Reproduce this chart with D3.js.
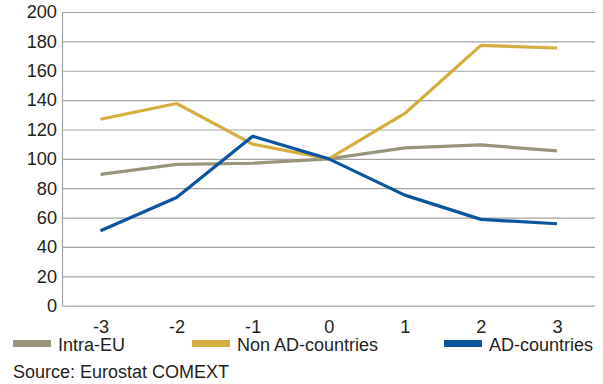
<!DOCTYPE html>
<html>
<head>
<meta charset="utf-8">
<script src="https://cdn.jsdelivr.net/npm/d3@7"></script>
<style>
  html, body { margin: 0; padding: 0; background: #fff; }
  svg { display: block; }
  text { font-family: "Liberation Sans", Arial, Helvetica, sans-serif; fill: #231f20; }
</style>
</head>
<body>
<svg id="chart" width="603" height="384"></svg>
<script>
// Years relative to the start of anti-dumping measures
const years = [-3, -2, -1, 0, 1, 2, 3];
// Import indices (year 0 = 100)
const intraEU = [89.4, 96.2, 97, 100, 107.5, 109.5, 105.4];
const nonAD = [127, 137.7, 110, 100, 130.9, 177.3, 175.5];
const adCountries = [51, 73.7, 115.4, 100, 75.3, 58.8, 55.8];
const seriesNames = ["Intra-EU", "Non AD-countries", "AD-countries"];
const seriesColors = ["#99957a", "#d5ae40", "#0b559f"];
const yTicks = [0, 20, 40, 60, 80, 100, 120, 140, 160, 180, 200];
const sourceText = "Source: Eurostat COMEXT";

const series = [intraEU, nonAD, adCountries];

const svg = d3.select("#chart");
const plotLeft = 62.5, plotRight = 595, plotTop = 12, plotBottom = 305.7;

const x = d3.scalePoint().domain(years).range([plotLeft, plotRight]).padding(0.5);
const y = d3.scaleLinear().domain([0, 200]).range([plotBottom, plotTop]);

// Horizontal gridlines with value labels
const yAxis = d3.axisLeft(y).tickValues(yTicks).tickSize(-(plotRight - plotLeft)).tickPadding(6);
const gy = svg.append("g").attr("transform", `translate(${plotLeft},0)`).call(yAxis);
gy.select(".domain").remove();
gy.selectAll(".tick line").attr("stroke", "#a3a3a3").attr("stroke-width", 1.2);
gy.selectAll(".tick text").attr("font-size", 18.2).attr("fill", "#231f20").attr("x", -5.5)
  .style("font-family", "Liberation Sans, Arial, sans-serif");

// Vertical axis line
svg.append("line").attr("x1", plotLeft).attr("x2", plotLeft).attr("y1", plotTop).attr("y2", plotBottom)
  .attr("stroke", "#a3a3a3").attr("stroke-width", 1.2);

// Year labels
const xAxis = d3.axisBottom(x).tickSize(0).tickPadding(14).tickFormat(d => d < 0 ? "-" + Math.abs(d) : d);
const gx = svg.append("g").attr("transform", `translate(0,${plotBottom})`).call(xAxis);
gx.select(".domain").remove();
gx.selectAll(".tick text").attr("font-size", 18.2).attr("fill", "#231f20")
  .style("font-family", "Liberation Sans, Arial, sans-serif");

// Lines
const line = d3.line().x((d, i) => x(years[i])).y(d => y(d));
series.forEach((vals, k) => {
  svg.append("path").datum(vals)
    .attr("d", line)
    .attr("fill", "none")
    .attr("stroke", seriesColors[k])
    .attr("stroke-width", 3.2)
    .attr("stroke-linejoin", "round");
});

// Legend
const legendX = [13, 192, 444];
seriesNames.forEach((name, k) => {
  const g = svg.append("g").attr("transform", `translate(${legendX[k]},340)`);
  g.append("rect").attr("width", 38).attr("height", 7).attr("fill", seriesColors[k]);
  g.append("text").attr("x", 45).attr("y", 11).attr("font-size", 18).text(name);
});

// Source note
svg.append("text").attr("x", 13).attr("y", 377.5).attr("font-size", 18).text(sourceText);
</script>
</body>
</html>
